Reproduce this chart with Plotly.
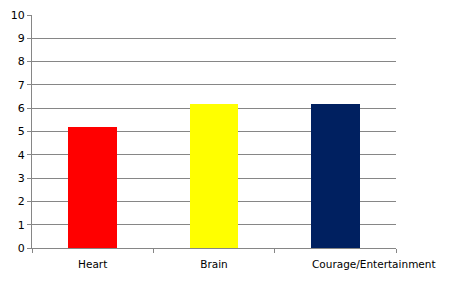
import plotly.graph_objects as go

categories = ["Heart", "Brain", "Courage/Entertainment"]
values = [5.2, 6.2, 6.2]
colors = ["#FF0000", "#FFFF00", "#002060"]
y_ticks = list(range(0, 11))

fig = go.Figure(go.Bar(x=categories, y=values, marker_color=colors,
                       marker_line_width=0, width=0.4))

grid = "#868686"
fig.update_layout(
    width=453, height=291,
    margin=dict(l=32, r=57, t=15, b=43),
    paper_bgcolor="white", plot_bgcolor="white",
    font=dict(family="DejaVu Sans", size=10, color="#000000"),
    showlegend=False,
    bargap=0,
)
# last label sits left-aligned at the bar's left edge, as in the reference
tick_text = categories[:-1] + [""]
fig.update_xaxes(
    showline=True, linecolor=grid, linewidth=1,
    ticks="outside", tickson="boundaries", ticklen=4, tickcolor=grid,
    showgrid=False, tickfont=dict(size=10.5), tickangle=0, automargin=False,
    ticklabelstandoff=6, tickvals=categories, ticktext=tick_text,
    range=[-0.5, len(categories) - 0.5],
)
fig.add_annotation(
    x=categories[-1], y=0, xref="x", yref="paper",
    text=categories[-1], showarrow=False,
    xanchor="left", yanchor="top", xshift=-25, yshift=-8,
    font=dict(size=10.5, family="DejaVu Sans", color="#000000"),
)
fig.update_yaxes(
    range=[0, 10], tickvals=y_ticks, showgrid=True, gridcolor=grid, gridwidth=1,
    showline=True, linecolor=grid, linewidth=1,
    ticks="outside", ticklen=4, tickcolor=grid, zeroline=False,
    tickfont=dict(size=11), automargin=False,
)
fig.write_html("out.html")
